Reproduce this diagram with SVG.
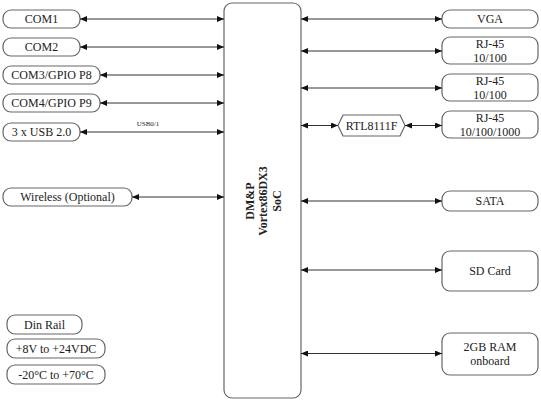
<svg xmlns="http://www.w3.org/2000/svg" width="541" height="401" viewBox="0 0 541 401">
<defs>
<marker id="arr" viewBox="0 0 7 6" refX="7" refY="3" markerWidth="7" markerHeight="6" markerUnits="userSpaceOnUse" orient="auto-start-reverse">
<path d="M0,0 L7,3 L0,6 z" fill="#111"/>
</marker>
<style>
.n{fill:#fff;stroke:#666;stroke-width:1.2}
.t{font-size:12px;fill:#222;text-anchor:middle;dominant-baseline:central}
.c{stroke:#333;stroke-width:1;fill:none;marker-start:url(#arr);marker-end:url(#arr)}
</style>
</defs>
<rect width="541" height="401" fill="#fff"/>
<g font-family="Liberation Serif, Times New Roman, serif">
<g id="soc">
<rect class="n" x="224" y="3" width="77" height="395" rx="8"/>
<text class="t" transform="translate(263,201) rotate(-90)" font-weight="bold" font-size="12"><tspan x="0" y="-13.5">DM&amp;P</tspan><tspan x="0" y="0">Vortex86DX3</tspan><tspan x="0" y="13.5">SoC</tspan></text>
</g>
<g id="com1"><rect class="n" x="3" y="10" width="77" height="18" rx="8"/><text class="t" x="41.5" y="19">COM1</text></g>
<g id="com2"><rect class="n" x="3" y="38" width="77" height="18" rx="8"/><text class="t" x="41.5" y="47">COM2</text></g>
<g id="com3"><rect class="n" x="3" y="66" width="97" height="18" rx="8"/><text class="t" x="51.5" y="75">COM3/GPIO P8</text></g>
<g id="com4"><rect class="n" x="3" y="94" width="97" height="18" rx="8"/><text class="t" x="51.5" y="103">COM4/GPIO P9</text></g>
<g id="usb"><rect class="n" x="3" y="123" width="77" height="18" rx="8"/><text class="t" x="41.5" y="132">3 x USB 2.0</text></g>
<g id="wireless"><rect class="n" x="3" y="188" width="129" height="18" rx="8"/><text class="t" x="67.5" y="197">Wireless (Optional)</text></g>
<g id="dinrail"><rect class="n" x="7" y="315" width="75" height="19" rx="8"/><text class="t" x="44.5" y="324.5">Din Rail</text></g>
<g id="power"><rect class="n" x="7" y="339" width="98" height="19" rx="8"/><text class="t" x="56" y="348.5">+8V to +24VDC</text></g>
<g id="temp"><rect class="n" x="7" y="365" width="98" height="19" rx="8"/><text class="t" x="56" y="374.5">-20°C to +70°C</text></g>
<g id="vga"><rect class="n" x="442" y="10" width="96" height="18" rx="8"/><text class="t" x="490" y="19">VGA</text></g>
<g id="rj45a"><rect class="n" x="442" y="37" width="96" height="27" rx="8"/><text class="t" x="490" y="44">RJ-45</text><text class="t" x="490" y="57.5">10/100</text></g>
<g id="rj45b"><rect class="n" x="442" y="74" width="96" height="27" rx="8"/><text class="t" x="490" y="81">RJ-45</text><text class="t" x="490" y="94.5">10/100</text></g>
<g id="rj45c"><rect class="n" x="442" y="111" width="96" height="27" rx="8"/><text class="t" x="490" y="118">RJ-45</text><text class="t" x="490" y="131.5">10/100/1000</text></g>
<g id="rtl"><polygon class="n" points="343,115 400,115 405,125.5 400,136 343,136 338,125.5"/><text class="t" x="371.5" y="125.5">RTL8111F</text></g>
<g id="sata"><rect class="n" x="442" y="191" width="96" height="20" rx="8"/><text class="t" x="490" y="201">SATA</text></g>
<g id="sd"><rect class="n" x="442" y="251" width="96" height="40" rx="8"/><text class="t" x="490" y="271">SD Card</text></g>
<g id="ram"><rect class="n" x="442" y="333" width="96" height="42" rx="8"/><text class="t" x="490" y="347">2GB RAM</text><text class="t" x="490" y="361">onboard</text></g>
<g id="connectors">
<line class="c" x1="80" y1="19" x2="224" y2="19"/>
<line class="c" x1="80" y1="47" x2="224" y2="47"/>
<line class="c" x1="100" y1="75" x2="224" y2="75"/>
<line class="c" x1="100" y1="103" x2="224" y2="103"/>
<line class="c" x1="80" y1="132" x2="224" y2="132"/>
<text x="148" y="126" font-size="7" fill="#222" text-anchor="middle">USB0/1</text>
<line class="c" x1="132" y1="197" x2="224" y2="197"/>
<line class="c" x1="301" y1="19" x2="442" y2="19"/>
<line class="c" x1="301" y1="51" x2="442" y2="51"/>
<line class="c" x1="301" y1="88" x2="442" y2="88"/>
<line class="c" x1="301" y1="125.5" x2="338" y2="125.5"/>
<line class="c" x1="405" y1="125.5" x2="442" y2="125.5"/>
<line class="c" x1="301" y1="201" x2="442" y2="201"/>
<line class="c" x1="301" y1="270" x2="442" y2="270"/>
<line class="c" x1="301" y1="353.5" x2="442" y2="353.5"/>
</g>
</g>
</svg>
